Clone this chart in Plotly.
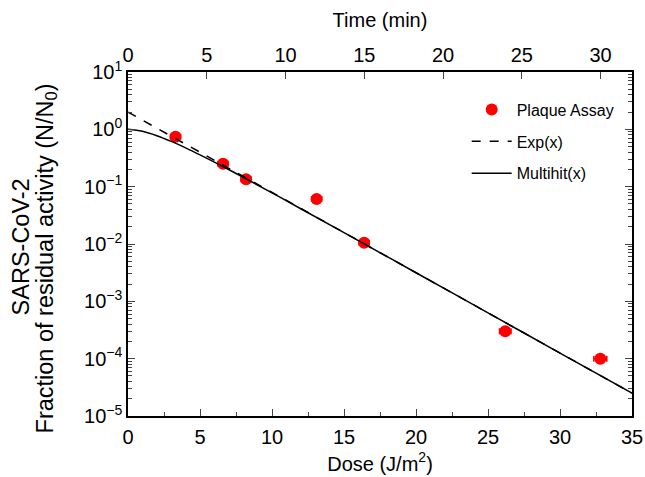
import plotly.graph_objects as go

# Data
dose_pts = [3.3, 6.6, 8.2, 13.1, 16.4, 26.2, 32.8]
frac_pts = [0.74, 0.25, 0.135, 0.061, 0.0105, 3.0e-4, 1.0e-4]
dose_err = [0.35, 0.35, 0.35, 0.35, 0.35, 0.4, 0.45]

exp_dose = [0, 35]
exp_frac = [2.0, 2.5e-5]

mh_dose = [0, 1, 2, 3, 4, 5, 6, 8, 10, 12, 15, 20, 25, 30, 35]
mh_frac = [1.0, 0.924, 0.774, 0.616, 0.475, 0.359, 0.268, 0.146, 0.078,
           0.0412, 0.0158, 0.00315, 6.3e-4, 1.25e-4, 2.5e-5]

x_ticks = [0, 5, 10, 15, 20, 25, 30, 35]
time_ticks = [0, 5, 10, 15, 20, 25, 30]
time_max = 32.0
y_ticks = [1e-5, 1e-4, 1e-3, 1e-2, 1e-1, 1, 10]
y_ticktext = ["10<sup>\u22125</sup>", "10<sup>\u22124</sup>", "10<sup>\u22123</sup>",
              "10<sup>\u22122</sup>", "10<sup>\u22121</sup>", "10<sup>0</sup>",
              "10<sup>1</sup>"]

FONT = "Liberation Sans, Arial, Helvetica, sans-serif"

fig = go.Figure()
fig.add_trace(go.Scatter(
    x=dose_pts, y=frac_pts, mode="markers", name="Plaque Assay",
    marker=dict(color="#ff0000", size=12),
    error_x=dict(type="data", array=dose_err, color="#ff0000", thickness=1.5, width=3),
    legendgroup="a"))
fig.add_trace(go.Scatter(
    x=exp_dose, y=exp_frac, mode="lines", name="Exp(x)",
    line=dict(color="black", width=1.5, dash="dash"), legendgroup="b"))
fig.add_trace(go.Scatter(
    x=mh_dose, y=mh_frac, mode="lines", name="Multihit(x)",
    line=dict(color="black", width=1.5, shape="spline"), legendgroup="c"))
# invisible trace to anchor the top time axis
fig.add_trace(go.Scatter(x=[0, time_max], y=[1, 1], xaxis="x2", mode="lines",
                         line=dict(width=0), showlegend=False, hoverinfo="skip"))

fig.update_layout(
    template="none",
    width=645, height=477,
    margin=dict(l=128, r=13, t=72, b=61, autoexpand=False),
    paper_bgcolor="white", plot_bgcolor="white",
    font=dict(family=FONT, size=20, color="black"),
    showlegend=True,
    legend=dict(x=0.672, y=0.94, xanchor="left", yanchor="top",
                font=dict(size=16), bgcolor="rgba(0,0,0,0)",
                tracegroupgap=8, itemwidth=40),
    xaxis=dict(range=[0, 35], tickvals=x_ticks, ticks="inside", ticklen=7,
               tickwidth=1.2, showline=True, linecolor="black", linewidth=1.5,
               showgrid=False, zeroline=False, ticklabelstandoff=2, automargin=False,
               minor=dict(dtick=2.5, tick0=0, ticks="inside", ticklen=4, tickwidth=1.2),
               title=dict(text="Dose (J/m<sup>2</sup>)", font=dict(size=20), standoff=10)),
    xaxis2=dict(range=[0, time_max], overlaying="x", side="top", tickvals=time_ticks,
                ticks="inside", ticklen=7, tickwidth=1.2, showline=True, automargin=False,
                linecolor="black", linewidth=1.5, showgrid=False, zeroline=False,
                title=dict(text="Time (min)", font=dict(size=20), standoff=11)),
    yaxis=dict(type="log", range=[-5, 1], tickvals=y_ticks, ticktext=y_ticktext,
               ticks="inside", ticklen=7, tickwidth=1.2, showline=True, automargin=False,
               linecolor="black", linewidth=1.5, mirror="ticks",
               showgrid=False, zeroline=False,
               minor=dict(dtick="D1", ticks="inside", ticklen=4, tickwidth=1),
               title=dict(text="")),
    annotations=[
        dict(text="SARS-CoV-2", xref="paper", yref="paper",
             x=(21 - 128) / 504, y=0.49, xanchor="center", yanchor="middle",
             textangle=-90, showarrow=False, font=dict(size=23.5, family=FONT)),
        dict(text="Fraction of residual activity (N/N<sub>0</sub>)",
             xref="paper", yref="paper",
             x=(46 - 128) / 504, y=0.458, xanchor="center", yanchor="middle",
             textangle=-90, showarrow=False, font=dict(size=23.5, family=FONT)),
    ],
)

fig.write_html("out.html", config={"displayModeBar": False},
               post_script="document.body.style.margin='0';")
